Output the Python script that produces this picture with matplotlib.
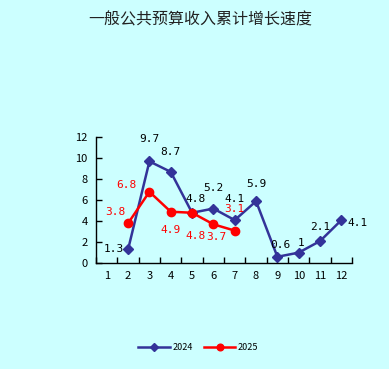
import matplotlib
matplotlib.use("Agg")
import matplotlib.pyplot as plt
import numpy as np

plt.rcParams["font.family"] = ["Noto Sans CJK SC", "DejaVu Sans"]

months = ["1", "2", "3", "4", "5", "6", "7", "8", "9", "10", "11", "12"]
growth_2024 = [np.nan, 1.3, 9.7, 8.7, 4.8, 5.2, 4.1, 5.9, 0.6, 1.0, 2.1, 4.1]
growth_2025 = [np.nan, 3.8, 6.8, 4.9, 4.8, 3.7, 3.1, np.nan, np.nan, np.nan, np.nan, np.nan]
labels_2024 = ["", "1.3", "9.7", "8.7", "4.8", "5.2", "4.1", "5.9", "0.6", "1", "2.1", "4.1"]
labels_2025 = ["", "3.8", "6.8", "4.9", "4.8", "3.7", "3.1", "", "", "", "", ""]

# label offsets in pixels (dx, dy)
off_2024 = [None, (-14, 0), (0, 22), (0, 20), (3, 14), (0, 21), (0, 21), (0, 17),
            (3, 12), (2, 10), (0, 14), (16, -3)]
off_2025 = [None, (-13, 11), (-23, 7), (0, -18), (3, -23), (3, -13), (0, 22)]

bg = "#CCFFFF"
blue = "#333399"
red = "#FF0000"

fig = plt.figure(figsize=(3.89, 3.69), dpi=100, facecolor=bg)
ax = fig.add_axes([0.247, 0.287, 0.658, 0.341], facecolor=bg)

x = np.arange(len(months))
ax.plot(x, growth_2024, color=blue, lw=1.8, marker="D", ms=5, label="2024")
ax.plot(x, growth_2025, color=red, lw=1.8, marker="o", ms=6, label="2025")

for i, (v, t) in enumerate(zip(growth_2024, labels_2024)):
    if t:
        ax.annotate(t, (x[i], v), xytext=off_2024[i], textcoords="offset pixels",
                    ha="center", va="center", fontsize=8, color="black",
                    family="DejaVu Sans Mono")
for i, (v, t) in enumerate(zip(growth_2025, labels_2025)):
    if t:
        ax.annotate(t, (x[i], v), xytext=off_2025[i], textcoords="offset pixels",
                    ha="center", va="center", fontsize=8, color=red,
                    family="DejaVu Sans Mono")

ax.set_xlim(-0.5, 11.5)
ax.set_ylim(0, 12)
ax.set_yticks(range(0, 13, 2))
ax.set_xticks(x)
ax.set_xticklabels(months)
ax.set_xticks(np.arange(-0.5, 12, 1), minor=True)
ax.tick_params(axis="x", which="major", length=0, pad=6, labelsize=8)
ax.tick_params(axis="x", which="minor", direction="in", length=4, width=1)
ax.tick_params(axis="y", direction="in", length=4, width=1, labelsize=8, pad=6)
for s in ["top", "right"]:
    ax.spines[s].set_visible(False)
for s in ["left", "bottom"]:
    ax.spines[s].set_color("black")
    ax.spines[s].set_linewidth(1)

fig.text(0.514, 0.945, "一般公共预算收入累计增长速度", ha="center", va="center",
         fontsize=11.5, color="#222222")

fig.legend(loc="center", bbox_to_anchor=(0.51, 0.057), ncol=2, frameon=False,
           fontsize=6.5, handlelength=3.5, handletextpad=0.3, columnspacing=1.2,
           markerscale=0.8)

fig.savefig("out.png", dpi=100, facecolor=bg)
